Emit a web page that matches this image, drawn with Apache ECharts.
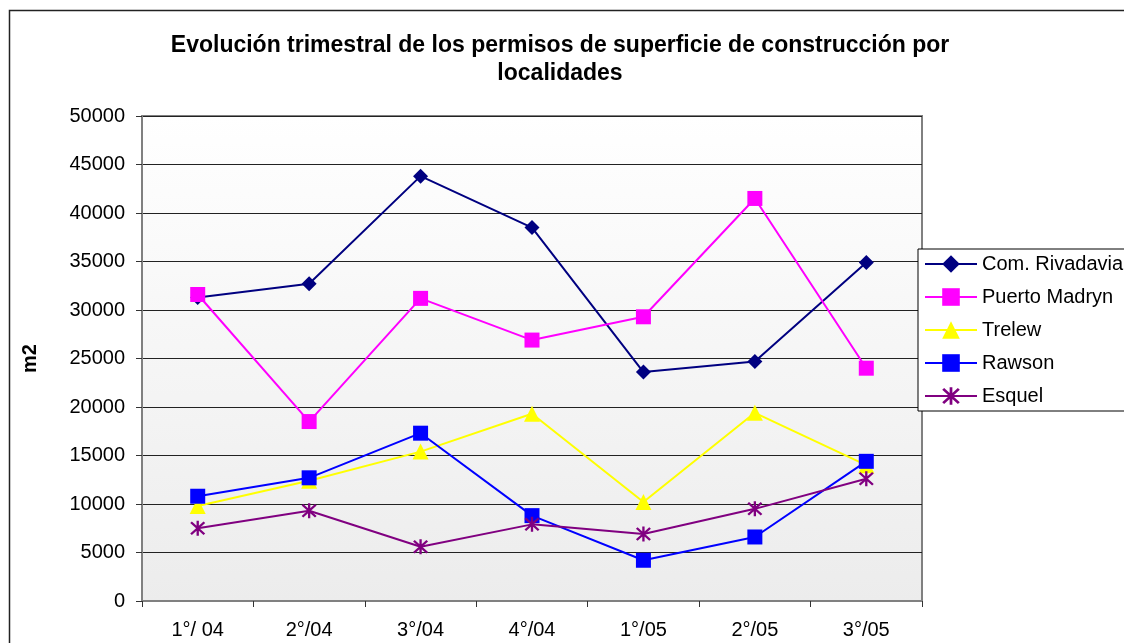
<!DOCTYPE html>
<html>
<head>
<meta charset="utf-8">
<script src="https://cdn.jsdelivr.net/npm/echarts@6/dist/echarts.min.js"></script>
<style>
  html, body { margin: 0; padding: 0; background: #fff; }
  #main { width: 1124px; height: 643px; }
</style>
</head>
<body>
<div id="main"></div>
<script>
// trimestres
var categories = ['1°/ 04', '2°/04', '3°/04', '4°/04', '1°/05', '2°/05', '3°/05'];

// m2 por localidad
var comRivadavia = [31300, 32700, 43800, 38500, 23600, 24700, 34900];
var puertoMadryn = [31600, 18500, 31200, 26900, 29300, 41500, 24000];
var trelew = [9800, 12400, 15400, 19300, 10200, 19400, 14000];
var rawson = [10800, 12700, 17300, 8800, 4200, 6600, 14400];
var esquel = [7500, 9300, 5600, 7900, 6900, 9500, 12600];

var yTicks = [0, 5000, 10000, 15000, 20000, 25000, 30000, 35000, 40000, 45000, 50000];

// asterisco para Esquel
var asterisk = 'path://M8.6 0L11.4 0L11.4 20L8.6 20Z M1 3L3 1L19 17L17 19Z M17 1L19 3L3 19L1 17Z';

var font = 'Arial, "Liberation Sans", sans-serif';

var myChart = echarts.init(document.getElementById('main'));

function serie(name, data, color, symbol, size) {
    return {
        name: name,
        type: 'line',
        data: data,
        symbol: symbol,
        symbolSize: size,
        showAllSymbol: true,
        lineStyle: { color: color, width: 2 },
        itemStyle: { color: color, borderWidth: 0 }
    };
}

myChart.setOption({
    animation: false,
    backgroundColor: '#fff',
    title: {
        text: 'Evolución trimestral de los permisos de superficie de construcción por\nlocalidades',
        left: 555,
        top: 27,
        textAlign: 'center',
        textStyle: {
            fontFamily: font,
            fontSize: 23,
            fontWeight: 'bold',
            lineHeight: 28,
            color: '#000'
        }
    },
    graphic: [{
        type: 'rect',
        shape: { x: 9.5, y: 10.5, width: 1300, height: 800 },
        style: { fill: 'none', stroke: '#222', lineWidth: 1.5 },
        silent: true,
        z: -1
    }],
    legend: {
        orient: 'vertical',
        left: 918,
        top: 249,
        padding: [4, 20, 4, 6],
        itemWidth: 52,
        itemHeight: 22,
        itemGap: 11,
        backgroundColor: '#fff',
        borderColor: '#000',
        borderWidth: 1,
        textStyle: { fontFamily: font, fontSize: 20, lineHeight: 22, color: '#000' },
        data: ['Com. Rivadavia', 'Puerto Madryn', 'Trelew', 'Rawson', 'Esquel']
    },
    grid: {
        left: 142,
        right: 202,
        top: 116,
        bottom: 42,
        show: true,
        borderWidth: 2,
        borderColor: '#808080',
        backgroundColor: {
            type: 'linear', x: 0, y: 0, x2: 0, y2: 1,
            colorStops: [{ offset: 0, color: '#ffffff' }, { offset: 1, color: '#ececec' }]
        }
    },
    xAxis: {
        type: 'category',
        data: categories,
        boundaryGap: true,
        axisLine: { lineStyle: { color: '#808080', width: 2 } },
        axisTick: { show: true, length: 6, lineStyle: { color: '#333' } },
        axisLabel: { margin: 19, fontFamily: font, fontSize: 20, color: '#000' },
        splitLine: { show: false }
    },
    yAxis: {
        type: 'value',
        min: yTicks[0],
        max: yTicks[yTicks.length - 1],
        interval: yTicks[1] - yTicks[0],
        name: 'm2',
        nameLocation: 'middle',
        nameGap: 102,
        nameRotate: 90,
        nameTextStyle: { fontFamily: font, fontSize: 20, fontWeight: 'bold', color: '#000' },
        axisLine: { show: true, lineStyle: { color: '#808080', width: 2 } },
        axisTick: { show: true, length: 6, lineStyle: { color: '#333' } },
        axisLabel: {
            margin: 17, fontFamily: font, fontSize: 20, color: '#000',
            formatter: function (v) { return String(v); }
        },
        splitLine: { show: true, lineStyle: { color: '#222', width: 1 } }
    },
    series: [
        serie('Com. Rivadavia', comRivadavia, '#000080', 'diamond', 15),
        serie('Puerto Madryn', puertoMadryn, '#FF00FF', 'rect', 15),
        serie('Trelew', trelew, '#FFFF00', 'triangle', 16),
        serie('Rawson', rawson, '#0000FF', 'rect', 15),
        serie('Esquel', esquel, '#800080', asterisk, 15)
    ]
});
</script>
</body>
</html>
